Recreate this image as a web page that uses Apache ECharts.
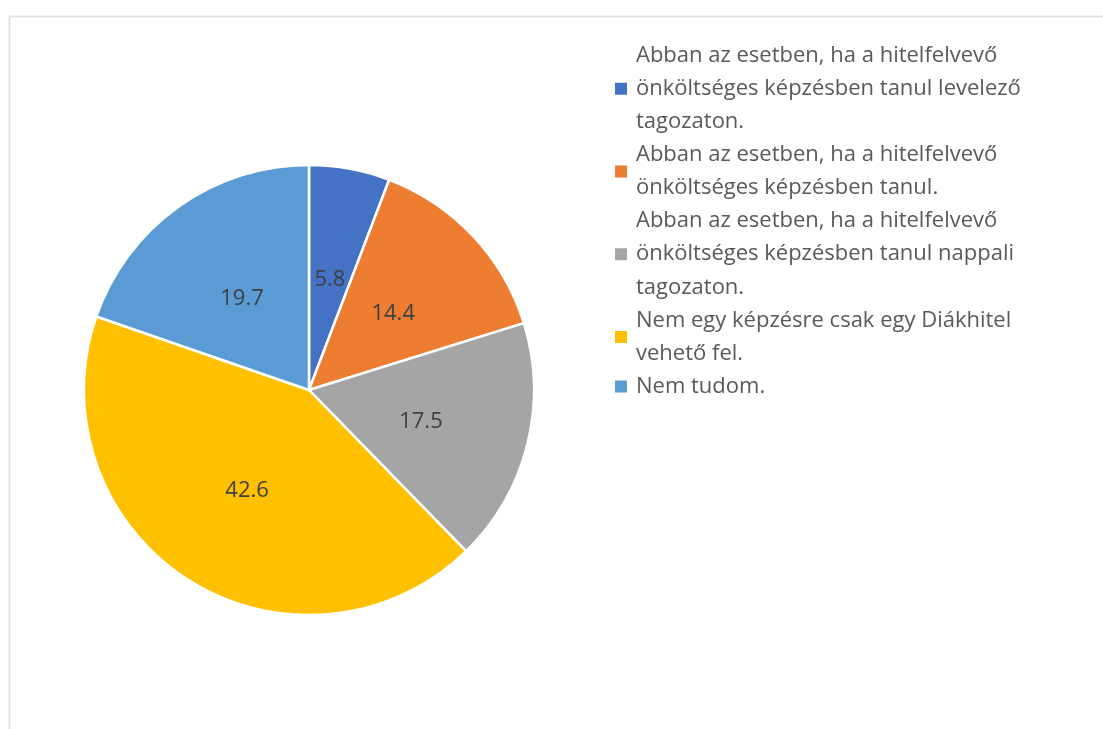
<!DOCTYPE html>
<html>
<head>
<meta charset="utf-8">
<script src="https://cdn.jsdelivr.net/npm/echarts@6/dist/echarts.min.js"></script>
<style>
  html, body { margin: 0; padding: 0; background: #ffffff; }
  #chart { width: 1103px; height: 729px; }
</style>
</head>
<body>
<div id="chart"></div>
<script>
// Survey answers (percent) and their legend texts
const categories = [
  'Abban az esetben, ha a hitelfelvevő\nönköltséges képzésben tanul levelező\ntagozaton.',
  'Abban az esetben, ha a hitelfelvevő\nönköltséges képzésben tanul.',
  'Abban az esetben, ha a hitelfelvevő\nönköltséges képzésben tanul nappali\ntagozaton.',
  'Nem egy képzésre csak egy Diákhitel\nvehető fel.',
  'Nem tudom.'
];
const values = [5.8, 14.4, 17.5, 42.6, 19.7];
const colors = ['#4472C4', '#ED7D31', '#A5A5A5', '#FFC000', '#5B9BD5'];

const FONT = '"Open Sans", "Noto Sans", sans-serif';

const chart = echarts.init(document.getElementById('chart'), null, { renderer: 'canvas' });

chart.setOption({
  animation: false,
  backgroundColor: '#ffffff',
  color: colors,
  graphic: [{
    type: 'rect',
    left: 7, top: 14,
    shape: { width: 1110, height: 730 },
    style: { fill: 'none', stroke: '#e3e3e3', lineWidth: 2 },
    silent: true,
    z: -1
  }],
  legend: {
    orient: 'vertical',
    left: 608,
    top: 34,
    itemWidth: 14,
    itemHeight: 14,
    itemGap: 0,
    icon: 'rect',
    textStyle: {
      fontFamily: FONT,
      fontSize: 22,
      color: '#595959',
      lineHeight: 33.1,
      padding: [0, 0, 0, 3]
    },
    data: categories
  },
  series: [{
    type: 'pie',
    center: [309, 390],
    radius: 225,
    startAngle: 90,
    clockwise: true,
    avoidLabelOverlap: false,
    itemStyle: { borderColor: '#ffffff', borderWidth: 2.5 },
    label: {
      show: true,
      position: 'inside',
      formatter: p => p.value.toFixed(1),
      fontFamily: FONT,
      fontSize: 22,
      color: '#404040',
      offset: [0, 3]
    },
    labelLine: { show: false },
    emphasis: { disabled: true },
    data: categories.map((c, i) => ({ name: c, value: values[i] }))
  }]
});
</script>
</body>
</html>
